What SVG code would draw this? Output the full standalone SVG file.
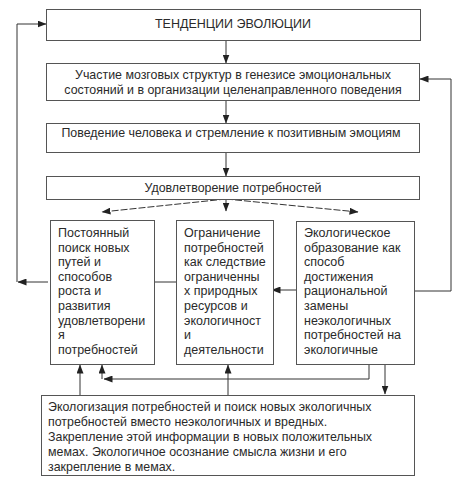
<svg xmlns="http://www.w3.org/2000/svg" width="459" height="488" viewBox="0 0 459 488">
<style>
.box{fill:#fff;stroke:#555;stroke-width:1}
.t{font-family:"Liberation Sans",Arial,sans-serif;font-size:12.4px;fill:#2a2a2a}
.c{text-anchor:middle}
.ln{fill:none;stroke:#333;stroke-width:1}
.d{stroke-dasharray:7,2}
</style>
<defs>
<marker id="ah" markerWidth="9" markerHeight="7" refX="8.5" refY="3.5" orient="auto" markerUnits="userSpaceOnUse">
<path d="M0,0 L9,3.5 L0,7 Z" fill="#222"/>
</marker>
</defs>
<rect width="459" height="488" fill="#fff"/>
<g id="connectors">
<path class="ln" d="M226,40 V63" marker-end="url(#ah)"/>
<path class="ln" d="M226,100 V123" marker-end="url(#ah)"/>
<path class="ln" d="M226,152 V176" marker-end="url(#ah)"/>
<path class="ln d" d="M226,199 L102,212" marker-end="url(#ah)"/>
<path class="ln" d="M226,199 V211" marker-end="url(#ah)"/>
<path class="ln d" d="M226,199 L358,212" marker-end="url(#ah)"/>
<path class="ln" d="M48,282 H18" marker-end="url(#ah)"/>
<path class="ln" d="M17,282 V24 H46" marker-end="url(#ah)"/>
<path class="ln" d="M176,282 H145" marker-end="url(#ah)"/>
<path class="ln" d="M296,290 H272" marker-end="url(#ah)"/>
<path class="ln" d="M414,291 H451 V79 H420" marker-end="url(#ah)"/>
<path class="ln" d="M80,395 V365" marker-end="url(#ah)"/>
<path class="ln" d="M102,379 V365" marker-end="url(#ah)"/>
<path class="ln" d="M369,365 V379 H104" marker-end="url(#ah)"/>
<path class="ln" d="M228,395 V365" marker-end="url(#ah)"/>
<path class="ln" d="M385,365 V394" marker-end="url(#ah)"/>
</g>
<g id="n1"><rect class="box" x="46.5" y="9.5" width="374" height="31"/><text class="t c" x="233" y="28" style="font-size:12.5px">ТЕНДЕНЦИИ ЭВОЛЮЦИИ</text></g>
<g id="n2"><rect class="box" x="46.5" y="63.5" width="373" height="37"/><text class="t c" x="233" y="79">Участие мозговых структур в генезисе эмоциональных</text><text class="t c" x="233" y="94">состояний и в организации целенаправленного поведения</text></g>
<g id="n3"><rect class="box" x="46.5" y="123.5" width="373" height="29"/><text class="t c" x="231" y="137">Поведение человека и стремление к позитивным эмоциям</text></g>
<g id="n4"><rect class="box" x="46.5" y="176.5" width="373" height="23"/><text class="t c" x="233" y="192">Удовлетворение потребностей</text></g>
<g id="n5"><rect class="box" x="50.5" y="220.5" width="104" height="144"/>
<text class="t" style="font-size:12.5px"><tspan x="58" y="237">Постоянный</tspan><tspan x="58" y="251.6">поиск новых</tspan><tspan x="58" y="266.2">путей и</tspan><tspan x="58" y="280.8">способов</tspan><tspan x="58" y="295.4">роста и</tspan><tspan x="58" y="310">развития</tspan><tspan x="58" y="324.6">удовлетворени</tspan><tspan x="58" y="339.2">я</tspan><tspan x="58" y="353.8">потребностей</tspan></text></g>
<g id="n6"><rect class="box" x="176.5" y="220.5" width="97" height="144"/>
<text class="t" style="font-size:12.5px"><tspan x="184" y="237">Ограничение</tspan><tspan x="184" y="251.6">потребностей</tspan><tspan x="184" y="266.2">как следствие</tspan><tspan x="184" y="280.8">ограниченны</tspan><tspan x="184" y="295.4">х природных</tspan><tspan x="184" y="310">ресурсов и</tspan><tspan x="184" y="324.6">экологичност</tspan><tspan x="184" y="339.2">и</tspan><tspan x="184" y="353.8">деятельности</tspan></text></g>
<g id="n7"><rect class="box" x="296.5" y="221.5" width="118" height="143"/>
<text class="t" style="font-size:12.5px"><tspan x="304" y="237">Экологическое</tspan><tspan x="304" y="251.6">образование как</tspan><tspan x="304" y="266.2">способ</tspan><tspan x="304" y="280.8">достижения</tspan><tspan x="304" y="295.4">рациональной</tspan><tspan x="304" y="310">замены</tspan><tspan x="304" y="324.6">неэкологичных</tspan><tspan x="304" y="339.2">потребностей на</tspan><tspan x="304" y="353.8">экологичные</tspan></text></g>
<g id="n8"><rect class="box" x="41.5" y="395.5" width="373" height="80"/>
<text class="t"><tspan x="48" y="411">Экологизация потребностей и поиск новых экологичных</tspan><tspan x="48" y="426">потребностей вместо неэкологичных и вредных.</tspan><tspan x="48" y="441">Закрепление этой информации в новых положительных</tspan><tspan x="48" y="456">мемах. Экологичное осознание смысла жизни и его</tspan><tspan x="48" y="471">закрепление в мемах.</tspan></text></g>
</svg>
